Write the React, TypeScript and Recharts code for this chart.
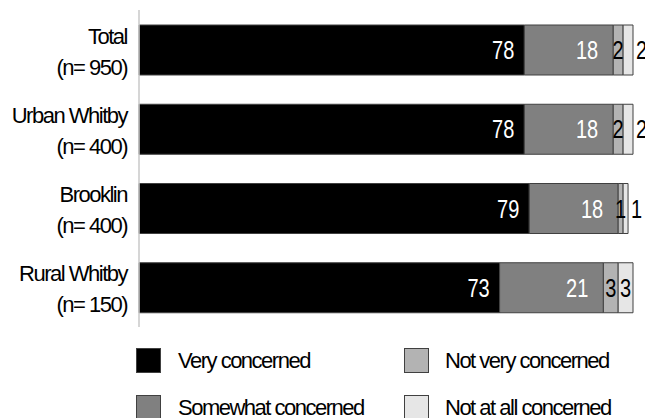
import React from 'react';
import { BarChart, Bar, XAxis, YAxis, LabelList, Legend } from 'recharts';

// Survey groups and their sample sizes
const categories = ['Total', 'Urban Whitby', 'Brooklin', 'Rural Whitby'];
const sampleSizes = [950, 400, 400, 150];

// Percent of respondents per level of concern
const veryConcerned = [78, 78, 79, 73];
const somewhatConcerned = [18, 18, 18, 21];
const notVeryConcerned = [2, 2, 1, 3];
const notAtAllConcerned = [2, 2, 1, 3];

const seriesKeys = ['very', 'somewhat', 'notVery', 'notAtAll'];
const seriesNames = ['Very concerned', 'Somewhat concerned', 'Not very concerned', 'Not at all concerned'];
const seriesColors = ['#000000', '#808080', '#b3b3b3', '#e6e6e6'];

const data = categories.map((name, i) => ({
  name,
  n: sampleSizes[i],
  very: veryConcerned[i],
  somewhat: somewhatConcerned[i],
  notVery: notVeryConcerned[i],
  notAtAll: notAtAllConcerned[i],
}));

const textFont = "'Liberation Sans', Arial, sans-serif";
// narrow figures: regular sans squeezed horizontally
const numberScale = 0.8;

const CategoryTick = (props: any) => {
  const { x, y, payload } = props;
  const row = data.find((d) => d.name === payload.value);
  return (
    <g>
      <text
        x={x - 12}
        y={y - 6}
        textAnchor="end"
        fontFamily={textFont}
        fontSize={22}
        letterSpacing={-1.5}
        fill="#000"
      >
        {payload.value}
      </text>
      <text
        x={x - 12}
        y={y + 25}
        textAnchor="end"
        fontFamily={textFont}
        fontSize={22}
        letterSpacing={-1.5}
        fill="#000"
      >
        {`(n= ${row ? row.n : ''})`}
      </text>
    </g>
  );
};

// Value label placement per series: dark segments get white labels at the inner end,
// light segments are centred, and the last segment moves outside when too narrow.
const makeLabel = (seriesIndex: number) => (props: any) => {
  const { x, y, width, height, value } = props;
  const cy = Number(y) + Number(height) / 2 + 9;
  const xs = Number(x);
  const w = Number(width);
  let tx = xs + w / 2;
  let anchor: 'start' | 'middle' | 'end' = 'middle';
  let fill = '#000';
  if (seriesIndex === 0) {
    tx = xs + w - 10;
    anchor = 'end';
    fill = '#fff';
  } else if (seriesIndex === 1) {
    tx = xs + w - 15;
    anchor = 'end';
    fill = '#fff';
  } else if (seriesIndex === 3 && w < 12) {
    tx = xs + w + 3;
    anchor = 'start';
  }
  return (
    <g transform={`translate(${tx},${cy}) scale(${numberScale},1)`}>
      <text x={0} y={0} textAnchor={anchor} fontFamily={textFont} fontSize={25} fill={fill}>
        {value}
      </text>
    </g>
  );
};

const legendSlots = [
  { left: 136, top: 8 },
  { left: 136, top: 55 },
  { left: 404, top: 8 },
  { left: 404, top: 55 },
];

const renderLegend = () => (
  <div style={{ position: 'relative', width: 645, height: 78 }}>
    {seriesNames.map((name, i) => (
      <div key={name} style={{ position: 'absolute', left: legendSlots[i].left, top: legendSlots[i].top, height: 25 }}>
        <div
          style={{
            position: 'absolute',
            left: 0,
            top: 0,
            width: 23,
            height: 23,
            background: seriesColors[i],
            border: '1px solid #404040',
          }}
        />
        <div
          style={{
            position: 'absolute',
            left: i < 2 ? 42 : 41,
            top: -2,
            whiteSpace: 'nowrap',
            fontFamily: textFont,
            fontSize: 22,
            letterSpacing: -1.5,
            lineHeight: '30px',
            color: '#000',
          }}
        >
          {name}
        </div>
      </div>
    ))}
  </div>
);

export default function App() {
  return (
    <div style={{ position: 'absolute', left: 0, top: 0, width: 645, height: 418, background: '#fff' }}>
      <BarChart
        width={645}
        height={418}
        data={data}
        layout="vertical"
        margin={{ top: 10, right: 12, bottom: 91, left: 0 }}
        barSize={50}
      >
        <XAxis type="number" domain={[0, 100]} hide />
        <YAxis
          type="category"
          dataKey="name"
          width={139}
          axisLine={{ stroke: '#c8c8c8', strokeWidth: 1.5 }}
          tickLine={false}
          tickSize={0}
          tickMargin={0}
          tick={<CategoryTick />}
          interval={0}
        />
        <Legend
          layout="horizontal"
          verticalAlign="middle"
          align="center"
          wrapperStyle={{ top: 340, left: 0, width: 645, height: 78 }}
          content={renderLegend}
        />
        {seriesKeys.map((key, i) => (
          <Bar
            key={key}
            dataKey={key}
            name={seriesNames[i]}
            stackId="a"
            fill={seriesColors[i]}
            stroke="#404040"
            strokeWidth={1}
            isAnimationActive={false}
          >
            <LabelList dataKey={key} content={makeLabel(i)} />
          </Bar>
        ))}
      </BarChart>
    </div>
  );
}
